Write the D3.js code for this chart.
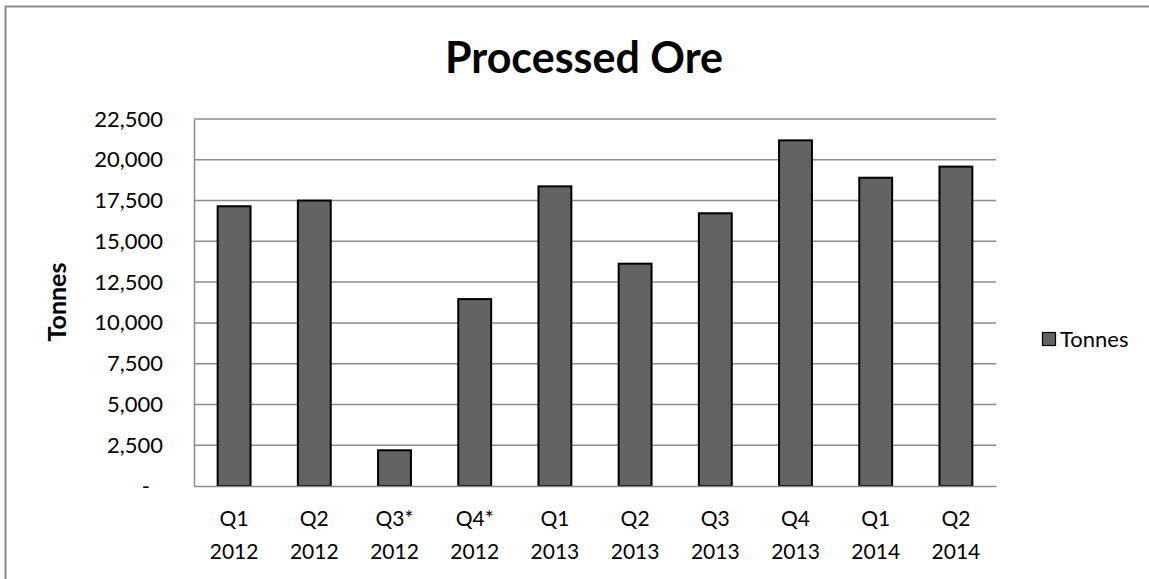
<!DOCTYPE html>
<html>
<head>
<meta charset="utf-8">
<script src="https://cdn.jsdelivr.net/npm/d3@7"></script>
<style>
  body { margin: 0; background: #fff; }
  text { font-family: Lato, "Open Sans", sans-serif; fill: #000; }
</style>
</head>
<body>
<svg id="chart"></svg>
<script>
// quarters (two label lines) and tonnes processed
const quarters = ["Q1", "Q2", "Q3*", "Q4*", "Q1", "Q2", "Q3", "Q4", "Q1", "Q2"];
const years = ["2012", "2012", "2012", "2012", "2013", "2013", "2013", "2013", "2014", "2014"];
const tonnes = [17150, 17500, 2190, 11460, 18370, 13630, 16720, 21190, 18900, 19580];
const yTicks = [0, 2500, 5000, 7500, 10000, 12500, 15000, 17500, 20000, 22500];
const seriesName = "Tonnes";

const width = 1149, height = 579;
const margin = { top: 119, right: 153, bottom: 93, left: 194 };
const innerW = width - margin.left - margin.right;
const innerH = height - margin.top - margin.bottom;

const data = tonnes.map((v, i) => ({ key: i, q: quarters[i], y: years[i], value: v }));

const svg = d3.select("#chart")
    .attr("width", width)
    .attr("height", height);

// outer chart frame
svg.append("rect")
    .attr("x", 5.5).attr("y", 6.5)
    .attr("width", width + 10).attr("height", height + 10)
    .attr("fill", "none")
    .attr("stroke", "#8a8a8a")
    .attr("stroke-width", 2);

svg.append("text")
    .attr("x", 584)
    .attr("y", 73)
    .attr("text-anchor", "middle")
    .style("font-size", "43px")
    .style("font-weight", "bold")
    .text("Processed Ore");

const chart = svg.append("g")
    .attr("transform", `translate(${margin.left},${margin.top})`);

const xScale = d3.scaleBand()
    .domain(data.map(d => d.key))
    .range([0, innerW]);

const yScale = d3.scaleLinear()
    .domain([0, 22500])
    .range([innerH, 0]);

// gridlines
chart.append("g")
    .selectAll("line")
    .data(yTicks.filter(t => t > 0))
    .enter()
    .append("line")
    .attr("x1", 0)
    .attr("x2", innerW)
    .attr("y1", d => yScale(d))
    .attr("y2", d => yScale(d))
    .attr("stroke", "#8c8c8c")
    .attr("stroke-width", 1.5);

// y axis
const yAxis = d3.axisLeft(yScale)
    .tickValues(yTicks)
    .tickSize(0)
    .tickPadding(31)
    .tickFormat(d => d === 0 ? "-" : d3.format(",")(d));

const yAxisG = chart.append("g").call(yAxis);
yAxisG.select(".domain").attr("stroke", "#8c8c8c").attr("stroke-width", 1.5);
yAxisG.selectAll("text")
    .style("font-size", "22px")
    .attr("font-family", null);
yAxisG.selectAll(".tick")
    .filter(d => d === 0)
    .select("text")
    .attr("dx", "-13");

// bars
const barW = xScale.bandwidth() * 0.41;
chart.selectAll(".bar")
    .data(data)
    .enter()
    .append("rect")
    .attr("class", "bar")
    .attr("x", d => xScale(d.key) + (xScale.bandwidth() - barW) / 2)
    .attr("y", d => yScale(d.value))
    .attr("width", barW)
    .attr("height", d => innerH - yScale(d.value))
    .attr("fill", "#636363")
    .attr("stroke", "#000")
    .attr("stroke-width", 2);

// x axis
const xAxis = d3.axisBottom(xScale)
    .tickSize(0)
    .tickFormat(() => "");
const xAxisG = chart.append("g")
    .attr("transform", `translate(0,${innerH})`)
    .call(xAxis);
xAxisG.select(".domain").attr("stroke", "#8c8c8c").attr("stroke-width", 1.5);

xAxisG.selectAll(".tick")
    .append("text")
    .attr("y", 40)
    .attr("text-anchor", "middle")
    .style("font-size", "21px")
    .text(d => data[d].q);
xAxisG.selectAll(".tick")
    .append("text")
    .attr("y", 73)
    .attr("text-anchor", "middle")
    .style("font-size", "21px")
    .text(d => data[d].y);

// y axis title
svg.append("text")
    .attr("transform", "translate(66,302) rotate(-90)")
    .attr("text-anchor", "middle")
    .style("font-size", "25px")
    .style("font-weight", "bold")
    .text("Tonnes");

// legend
const legend = svg.append("g")
    .attr("transform", "translate(1042,332)");
legend.append("rect")
    .attr("x", 0.5).attr("y", 0.5)
    .attr("width", 13).attr("height", 13)
    .attr("fill", "#636363")
    .attr("stroke", "#000")
    .attr("stroke-width", 1.2);
legend.append("text")
    .attr("x", 18)
    .attr("y", 15)
    .style("font-size", "22px")
    .text(seriesName);
</script>
</body>
</html>
